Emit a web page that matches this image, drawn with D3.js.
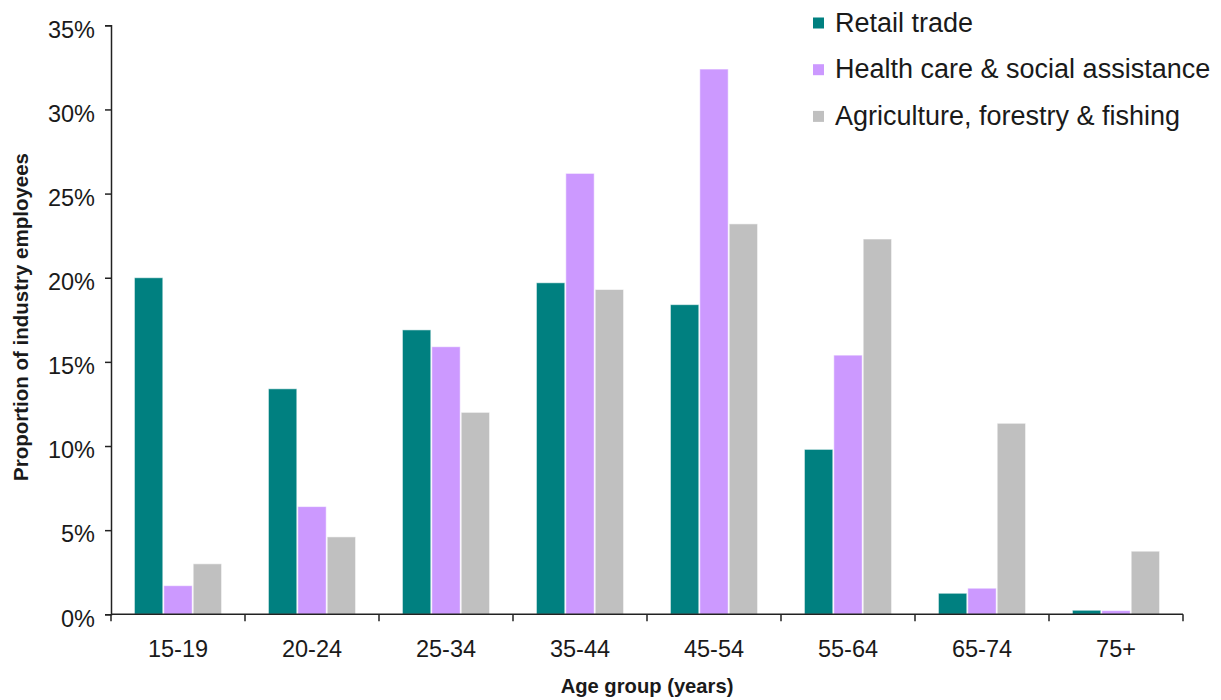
<!DOCTYPE html>
<html>
<head>
<meta charset="utf-8">
<script src="https://cdn.jsdelivr.net/npm/d3@7/dist/d3.min.js"></script>
<style>
  html, body { margin: 0; padding: 0; background: #fff; }
  svg { display: block; }
  text { font-family: "Liberation Sans", Arial, Helvetica, sans-serif; fill: #1a1a1a; }
</style>
</head>
<body>
<svg id="chart" width="1221" height="700"></svg>
<script>
// Age groups along the x axis
const ageGroups = ["15-19", "20-24", "25-34", "35-44", "45-54", "55-64", "65-74", "75+"];

// Industry series (share of each industry's employees, %)
const seriesNames = ["Retail trade", "Health care & social assistance", "Agriculture, forestry & fishing"];
const retailTrade = [20.0, 13.4, 16.9, 19.7, 18.4, 9.8, 1.25, 0.24];
const healthCare  = [1.7, 6.4, 15.9, 26.2, 32.4, 15.4, 1.55, 0.22];
const agriculture = [3.0, 4.6, 12.0, 19.3, 23.2, 22.3, 11.35, 3.75];

// Y axis ticks (%)
const yTicks = [0, 5, 10, 15, 20, 25, 30, 35];

const seriesColors = ["#008080", "#cc99ff", "#c0c0c0"];
const seriesValues = [retailTrade, healthCare, agriculture];

const width = 1221, height = 700;
const margin = { top: 25.3, right: 38, bottom: 85.7, left: 111 };

const svg = d3.select("#chart");

const x = d3.scaleBand()
  .domain(ageGroups)
  .range([margin.left, width - margin.right])
  .paddingInner(0)
  .paddingOuter(0);

const xSub = d3.scaleBand()
  .domain(seriesNames)
  .range([0, x.bandwidth()])
  .paddingInner(0)
  .paddingOuter(0.78);

const y = d3.scaleLinear()
  .domain([0, 35])
  .range([height - margin.bottom, margin.top]);

const color = d3.scaleOrdinal().domain(seriesNames).range(seriesColors);

// Flatten into rows for drawing
const rows = [];
ageGroups.forEach((g, i) => {
  seriesNames.forEach((s, j) => {
    rows.push({ group: g, series: s, value: seriesValues[j][i] });
  });
});

// Bars
svg.append("g")
  .selectAll("rect")
  .data(rows)
  .join("rect")
  .attr("x", d => x(d.group) + xSub(d.series) + 0.5)
  .attr("y", d => y(d.value))
  .attr("width", xSub.bandwidth() - 1)
  .attr("height", d => y(0) - y(d.value))
  .attr("fill", d => color(d.series))
  .attr("stroke", "rgba(255,255,255,0.55)")
  .attr("stroke-width", 1);

// Y axis
const yAxis = svg.append("g")
  .attr("transform", `translate(${margin.left},0)`)
  .call(d3.axisLeft(y).tickValues(yTicks).tickFormat(d => d + "%").tickSize(6).tickPadding(10));
yAxis.select(".domain").attr("stroke", "#222").attr("stroke-width", 1.5);
yAxis.selectAll(".tick line").attr("stroke", "#222").attr("stroke-width", 1.5);
yAxis.selectAll(".tick text")
  .attr("font-size", 23.5)
  .attr("dy", "0.5em")
  .style("font-family", "'Liberation Sans', Arial, sans-serif")
  .attr("fill", "#1a1a1a");

// X axis: ticks at band boundaries, labels centred under bands
const xAxisG = svg.append("g").attr("transform", `translate(0,${y(0)})`);
xAxisG.append("line")
  .attr("x1", margin.left).attr("x2", width - margin.right)
  .attr("y1", 0).attr("y2", 0)
  .attr("stroke", "#222").attr("stroke-width", 1.5);
const boundaries = ageGroups.map(g => x(g)).concat([x(ageGroups[ageGroups.length - 1]) + x.bandwidth()]);
xAxisG.selectAll("line.tick")
  .data(boundaries)
  .join("line")
  .attr("class", "tick")
  .attr("x1", d => d).attr("x2", d => d)
  .attr("y1", 0).attr("y2", 7)
  .attr("stroke", "#222").attr("stroke-width", 1.5);
xAxisG.selectAll("text")
  .data(ageGroups)
  .join("text")
  .attr("x", d => x(d) + x.bandwidth() / 2)
  .attr("y", 43)
  .attr("text-anchor", "middle")
  .attr("font-size", 23.5)
  .text(d => d);

// Axis titles
svg.append("text")
  .attr("x", x.range()[0] + (x.range()[1] - x.range()[0]) / 2)
  .attr("y", 693)
  .attr("text-anchor", "middle")
  .attr("font-size", 20.2)
  .attr("font-weight", "bold")
  .text("Age group (years)");

svg.append("text")
  .attr("transform", `translate(28,${(153 + 481) / 2}) rotate(-90)`)
  .attr("text-anchor", "middle")
  .attr("font-size", 20.5)
  .attr("font-weight", "bold")
  .text("Proportion of industry employees");

// Legend
const legend = svg.append("g").attr("transform", "translate(813,23)");
const legendItems = legend.selectAll("g")
  .data(seriesNames)
  .join("g")
  .attr("transform", (d, i) => `translate(0,${i * 46.7})`);
legendItems.append("rect")
  .attr("x", 0).attr("y", -5.5)
  .attr("width", 11).attr("height", 11)
  .attr("fill", d => color(d));
legendItems.append("text")
  .attr("x", 22)
  .attr("y", 8.5)
  .attr("font-size", 27)
  .text(d => d);
</script>
</body>
</html>
